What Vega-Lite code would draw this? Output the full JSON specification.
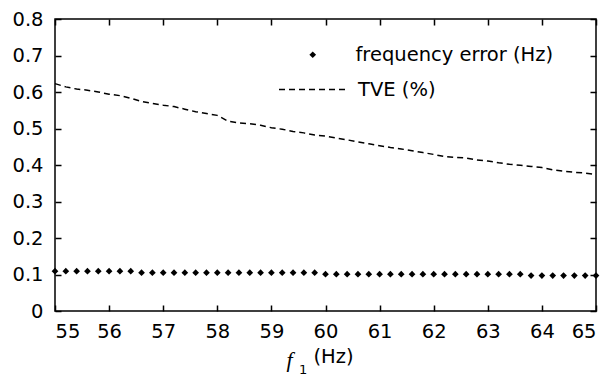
{
  "$schema": "https://vega.github.io/schema/vega-lite/v6.json",
  "width": 541,
  "height": 292,
  "autosize": {"type": "none"},
  "padding": {"left": 55, "top": 19, "right": 13, "bottom": 68},
  "background": "white",
  "title": {
    "text": "1",
    "orient": "bottom",
    "anchor": "start",
    "frame": "group",
    "font": "DejaVu Sans",
    "fontSize": 13,
    "fontWeight": "normal",
    "color": "black",
    "baseline": "top",
    "dx": 244,
    "offset": -6
  },
  "config": {
    "font": "DejaVu Sans",
    "view": {"stroke": "black", "strokeWidth": 1.5},
    "axis": {
      "labelFont": "DejaVu Sans",
      "labelFontSize": 19.5,
      "labelColor": "black",
      "titleColor": "black",
      "titleFontWeight": "normal"
    },
    "legend": {
      "labelFont": "DejaVu Sans",
      "labelFontSize": 19.5,
      "labelColor": "black",
      "labelLimit": 400,
      "padding": 0
    }
  },
  "data": {
    "values": [
      {"f": 55.0, "value": 0.109, "series": "frequency error (Hz)"},
      {"f": 55.2, "value": 0.109, "series": "frequency error (Hz)"},
      {"f": 55.4, "value": 0.109, "series": "frequency error (Hz)"},
      {"f": 55.6, "value": 0.109, "series": "frequency error (Hz)"},
      {"f": 55.8, "value": 0.109, "series": "frequency error (Hz)"},
      {"f": 56.0, "value": 0.109, "series": "frequency error (Hz)"},
      {"f": 56.2, "value": 0.109, "series": "frequency error (Hz)"},
      {"f": 56.4, "value": 0.109, "series": "frequency error (Hz)"},
      {"f": 56.6, "value": 0.105, "series": "frequency error (Hz)"},
      {"f": 56.8, "value": 0.105, "series": "frequency error (Hz)"},
      {"f": 57.0, "value": 0.105, "series": "frequency error (Hz)"},
      {"f": 57.2, "value": 0.105, "series": "frequency error (Hz)"},
      {"f": 57.4, "value": 0.105, "series": "frequency error (Hz)"},
      {"f": 57.6, "value": 0.105, "series": "frequency error (Hz)"},
      {"f": 57.8, "value": 0.105, "series": "frequency error (Hz)"},
      {"f": 58.0, "value": 0.105, "series": "frequency error (Hz)"},
      {"f": 58.2, "value": 0.105, "series": "frequency error (Hz)"},
      {"f": 58.4, "value": 0.105, "series": "frequency error (Hz)"},
      {"f": 58.6, "value": 0.105, "series": "frequency error (Hz)"},
      {"f": 58.8, "value": 0.105, "series": "frequency error (Hz)"},
      {"f": 59.0, "value": 0.105, "series": "frequency error (Hz)"},
      {"f": 59.2, "value": 0.105, "series": "frequency error (Hz)"},
      {"f": 59.4, "value": 0.105, "series": "frequency error (Hz)"},
      {"f": 59.6, "value": 0.105, "series": "frequency error (Hz)"},
      {"f": 59.8, "value": 0.105, "series": "frequency error (Hz)"},
      {"f": 60.0, "value": 0.101, "series": "frequency error (Hz)"},
      {"f": 60.2, "value": 0.101, "series": "frequency error (Hz)"},
      {"f": 60.4, "value": 0.101, "series": "frequency error (Hz)"},
      {"f": 60.6, "value": 0.101, "series": "frequency error (Hz)"},
      {"f": 60.8, "value": 0.101, "series": "frequency error (Hz)"},
      {"f": 61.0, "value": 0.101, "series": "frequency error (Hz)"},
      {"f": 61.2, "value": 0.101, "series": "frequency error (Hz)"},
      {"f": 61.4, "value": 0.101, "series": "frequency error (Hz)"},
      {"f": 61.6, "value": 0.101, "series": "frequency error (Hz)"},
      {"f": 61.8, "value": 0.101, "series": "frequency error (Hz)"},
      {"f": 62.0, "value": 0.101, "series": "frequency error (Hz)"},
      {"f": 62.2, "value": 0.101, "series": "frequency error (Hz)"},
      {"f": 62.4, "value": 0.101, "series": "frequency error (Hz)"},
      {"f": 62.6, "value": 0.101, "series": "frequency error (Hz)"},
      {"f": 62.8, "value": 0.101, "series": "frequency error (Hz)"},
      {"f": 63.0, "value": 0.101, "series": "frequency error (Hz)"},
      {"f": 63.2, "value": 0.101, "series": "frequency error (Hz)"},
      {"f": 63.4, "value": 0.101, "series": "frequency error (Hz)"},
      {"f": 63.6, "value": 0.101, "series": "frequency error (Hz)"},
      {"f": 63.8, "value": 0.097, "series": "frequency error (Hz)"},
      {"f": 64.0, "value": 0.097, "series": "frequency error (Hz)"},
      {"f": 64.2, "value": 0.097, "series": "frequency error (Hz)"},
      {"f": 64.4, "value": 0.097, "series": "frequency error (Hz)"},
      {"f": 64.6, "value": 0.097, "series": "frequency error (Hz)"},
      {"f": 64.8, "value": 0.097, "series": "frequency error (Hz)"},
      {"f": 65.0, "value": 0.097, "series": "frequency error (Hz)"},
      {"f": 55.0, "value": 0.623, "series": "TVE (%)"},
      {"f": 55.2, "value": 0.614, "series": "TVE (%)"},
      {"f": 55.4, "value": 0.608, "series": "TVE (%)"},
      {"f": 55.6, "value": 0.605, "series": "TVE (%)"},
      {"f": 55.8, "value": 0.600, "series": "TVE (%)"},
      {"f": 56.0, "value": 0.594, "series": "TVE (%)"},
      {"f": 56.2, "value": 0.590, "series": "TVE (%)"},
      {"f": 56.4, "value": 0.583, "series": "TVE (%)"},
      {"f": 56.6, "value": 0.574, "series": "TVE (%)"},
      {"f": 56.8, "value": 0.569, "series": "TVE (%)"},
      {"f": 57.0, "value": 0.564, "series": "TVE (%)"},
      {"f": 57.2, "value": 0.560, "series": "TVE (%)"},
      {"f": 57.4, "value": 0.553, "series": "TVE (%)"},
      {"f": 57.6, "value": 0.546, "series": "TVE (%)"},
      {"f": 57.8, "value": 0.541, "series": "TVE (%)"},
      {"f": 58.0, "value": 0.536, "series": "TVE (%)"},
      {"f": 58.2, "value": 0.520, "series": "TVE (%)"},
      {"f": 58.4, "value": 0.515, "series": "TVE (%)"},
      {"f": 58.6, "value": 0.513, "series": "TVE (%)"},
      {"f": 58.8, "value": 0.509, "series": "TVE (%)"},
      {"f": 59.0, "value": 0.502, "series": "TVE (%)"},
      {"f": 59.2, "value": 0.498, "series": "TVE (%)"},
      {"f": 59.4, "value": 0.492, "series": "TVE (%)"},
      {"f": 59.6, "value": 0.488, "series": "TVE (%)"},
      {"f": 59.8, "value": 0.482, "series": "TVE (%)"},
      {"f": 60.0, "value": 0.479, "series": "TVE (%)"},
      {"f": 60.2, "value": 0.474, "series": "TVE (%)"},
      {"f": 60.4, "value": 0.469, "series": "TVE (%)"},
      {"f": 60.6, "value": 0.463, "series": "TVE (%)"},
      {"f": 60.8, "value": 0.458, "series": "TVE (%)"},
      {"f": 61.0, "value": 0.453, "series": "TVE (%)"},
      {"f": 61.2, "value": 0.448, "series": "TVE (%)"},
      {"f": 61.4, "value": 0.444, "series": "TVE (%)"},
      {"f": 61.6, "value": 0.439, "series": "TVE (%)"},
      {"f": 61.8, "value": 0.434, "series": "TVE (%)"},
      {"f": 62.0, "value": 0.429, "series": "TVE (%)"},
      {"f": 62.2, "value": 0.423, "series": "TVE (%)"},
      {"f": 62.4, "value": 0.421, "series": "TVE (%)"},
      {"f": 62.6, "value": 0.419, "series": "TVE (%)"},
      {"f": 62.8, "value": 0.414, "series": "TVE (%)"},
      {"f": 63.0, "value": 0.411, "series": "TVE (%)"},
      {"f": 63.2, "value": 0.406, "series": "TVE (%)"},
      {"f": 63.4, "value": 0.402, "series": "TVE (%)"},
      {"f": 63.6, "value": 0.399, "series": "TVE (%)"},
      {"f": 63.8, "value": 0.396, "series": "TVE (%)"},
      {"f": 64.0, "value": 0.393, "series": "TVE (%)"},
      {"f": 64.2, "value": 0.387, "series": "TVE (%)"},
      {"f": 64.4, "value": 0.383, "series": "TVE (%)"},
      {"f": 64.6, "value": 0.380, "series": "TVE (%)"},
      {"f": 64.8, "value": 0.378, "series": "TVE (%)"},
      {"f": 65.0, "value": 0.374, "series": "TVE (%)"}
    ]
  },
  "encoding": {
    "x": {
      "field": "f",
      "type": "quantitative",
      "scale": {"domain": [55, 65], "nice": false, "zero": false},
      "axis": {
        "values": [55, 56, 57, 58, 59, 60, 61, 62, 63, 64, 65],
        "format": "d",
        "domain": false,
        "ticks": false,
        "grid": true,
        "gridColor": "black",
        "gridOpacity": 1,
        "gridWidth": 1.5,
        "gridDash": [6, 280],
        "labelPadding": 11,
        "labelOverlap": false,
        "title": "f",
        "titleFont": "Liberation Serif",
        "titleFontStyle": "italic",
        "titleFontSize": 22,
        "titleX": 234,
        "titleY": 55,
        "titleAlign": "center",
        "titleBaseline": "alphabetic"
      }
    },
    "y": {
      "field": "value",
      "type": "quantitative",
      "scale": {"domain": [0, 0.8], "nice": false},
      "axis": {
        "values": [0, 0.1, 0.2, 0.3, 0.4, 0.5, 0.6, 0.7, 0.8],
        "format": "~g",
        "domain": false,
        "ticks": false,
        "grid": true,
        "gridColor": "black",
        "gridOpacity": 1,
        "gridWidth": 1.5,
        "gridDash": [6, 529],
        "labelPadding": 12,
        "labelOverlap": false,
        "title": "(Hz)",
        "titleAngle": 0,
        "titleFont": "DejaVu Sans",
        "titleFontSize": 19.5,
        "titleX": 258,
        "titleY": 343,
        "titleAlign": "left",
        "titleBaseline": "alphabetic"
      }
    }
  },
  "layer": [
    {
      "transform": [{"filter": "datum.series === 'TVE (%)'"}],
      "mark": {"type": "line", "color": "black", "strokeWidth": 1.5},
      "encoding": {
        "strokeDash": {
          "field": "series",
          "type": "nominal",
          "scale": {"range": [[6, 4]]},
          "legend": {
            "title": null,
            "orient": "none",
            "legendX": 223,
            "legendY": 36,
            "symbolType": "stroke",
            "symbolSize": 4489,
            "symbolStrokeColor": "black",
            "symbolStrokeWidth": 1.5,
            "labelOffset": 11
          }
        }
      }
    },
    {
      "transform": [{"filter": "datum.series === 'frequency error (Hz)'"}],
      "mark": {"type": "point", "filled": true, "color": "black", "size": 45, "opacity": 1},
      "encoding": {
        "shape": {
          "field": "series",
          "type": "nominal",
          "scale": {"range": ["diamond"]},
          "legend": {
            "title": null,
            "orient": "none",
            "legendX": 248,
            "legendY": 26,
            "symbolSize": 45,
            "symbolFillColor": "black",
            "symbolStrokeColor": "black",
            "symbolStrokeWidth": 0,
            "labelOffset": 33
          }
        }
      }
    }
  ]
}
